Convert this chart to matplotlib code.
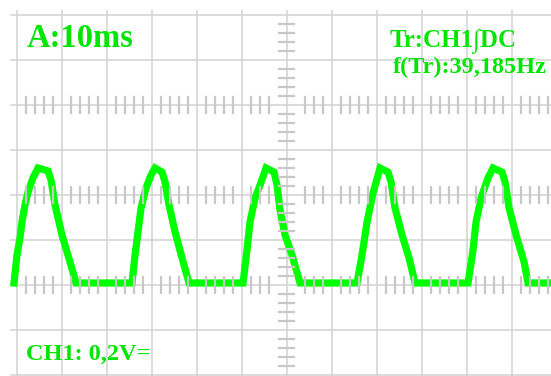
import numpy as np
import matplotlib
matplotlib.use('Agg')
import matplotlib.pyplot as plt

# Scope screen: CH1 at 0.2 V/div, timebase 10 ms/div

time_per_div = 10.0   # ms
volt_per_div = 0.2    # V

# trace, time in ms, voltage in V
trace_t = [-0.56, 0.11, 0.78, 1.22, 1.89, 2.55, 3.66, 4.77, 6.99, 7.66, 8.55, 10.10, 11.88, 13.21,
           25.64, 26.31, 26.97, 27.64, 28.75, 29.86, 30.75, 32.30, 32.97, 33.86, 35.19, 36.74, 38.30,
           50.28, 51.17, 51.84, 52.95, 54.06, 55.39, 57.17, 57.83, 58.50, 59.61, 61.16, 62.94,
           75.59, 76.70, 77.81, 79.14, 80.70, 82.47, 83.14, 84.03, 85.58, 87.14, 88.47,
           100.23, 101.34, 102.01, 103.12, 104.67, 105.79, 107.78, 108.45, 109.34, 110.89, 112.67, 113.55,
           118.65]
trace_v = [-0.391, -0.267, -0.191, -0.120, -0.044, 0.013, 0.076, 0.120, 0.107, 0.067, -0.044, -0.178, -0.298, -0.391,
           -0.391, -0.267, -0.164, -0.058, 0.031, 0.089, 0.120, 0.102, 0.058, -0.044, -0.164, -0.280, -0.391,
           -0.391, -0.244, -0.120, -0.013, 0.044, 0.120, 0.102, 0.044, -0.067, -0.178, -0.267, -0.391,
           -0.391, -0.267, -0.120, 0.009, 0.120, 0.102, 0.058, -0.058, -0.178, -0.280, -0.391,
           -0.391, -0.244, -0.120, -0.013, 0.076, 0.120, 0.102, 0.058, -0.058, -0.178, -0.298, -0.391,
           -0.391]

timebase_label = 'A:10ms'
trigger_label = 'Tr:CH1\u222bDC'
freq_label = 'f(Tr):39,185Hz'
channel_label = 'CH1: 0,2V='

W, H = 551, 376
fig = plt.figure(figsize=(W / 100, H / 100), dpi=100)
fig.patch.set_facecolor('white')

# axes spans screen pixels x 10..551, y 10..376
px_per_div = 45.05
x0_px, y0_px = 16.5, 195.0   # t=0 and V=0 on the screen
ax = fig.add_axes([10 / W, 0, 1 - 10 / W, 1 - 10 / H])
t_left = (10 - x0_px) / px_per_div * time_per_div
t_right = (W - x0_px) / px_per_div * time_per_div
v_top = (y0_px - 10) / 45.0 * volt_per_div
v_bot = (y0_px - H) / 45.0 * volt_per_div
ax.set_xlim(t_left, t_right)
ax.set_ylim(v_bot, v_top)
ax.axis('off')

grid_c = '#d2d2d2'
tick_c = '#c8c8c8'

for k in range(12):
    ax.axvline(k * time_per_div, color=grid_c, lw=1.1, zorder=1)
for k in range(-4, 5):
    ax.axhline(k * volt_per_div, color=grid_c, lw=1.1, zorder=1)

ax.plot(trace_t, trace_v, color='#00ff00', lw=5.2, solid_joinstyle='miter', zorder=2)

# minor ticks, drawn over the trace like on the scope
center_t = 60.0
tick_h = 8 / 45.0 * volt_per_div
tick_w = 7.5 / px_per_div * time_per_div
for row in [0.4, 0.0, -0.4]:
    for m in range(1, 60):
        t = m * 2.0
        if m % 5 == 0 or abs(t - center_t) < 3:
            continue
        ax.plot([t, t], [row - tick_h, row + tick_h], color=tick_c, lw=1.6, zorder=3)
for m in range(-19, 20):
    v = m * 0.04
    if m % 5 == 0:
        continue
    ax.plot([center_t - tick_w, center_t + tick_w], [v, v], color=tick_c, lw=1.6, zorder=3)

txt_c = '#00e600'
fam = ['Liberation Serif', 'DejaVu Serif']
fig.text(27 / W, 1 - 47 / H, timebase_label, color=txt_c, family=fam, weight='bold',
         fontsize=23.5, ha='left', va='baseline')
fig.text(390 / W, 1 - 47 / H, trigger_label, color=txt_c, family=fam, weight='bold',
         fontsize=18, ha='left', va='baseline')
fig.text(393 / W, 1 - 73 / H, freq_label, color=txt_c, family=fam, weight='bold',
         fontsize=17.5, ha='left', va='baseline')
fig.text(26 / W, 1 - 360 / H, channel_label, color=txt_c, family=fam, weight='bold',
         fontsize=17.5, ha='left', va='baseline')

plt.savefig('out.png', dpi=100)
plt.close()
